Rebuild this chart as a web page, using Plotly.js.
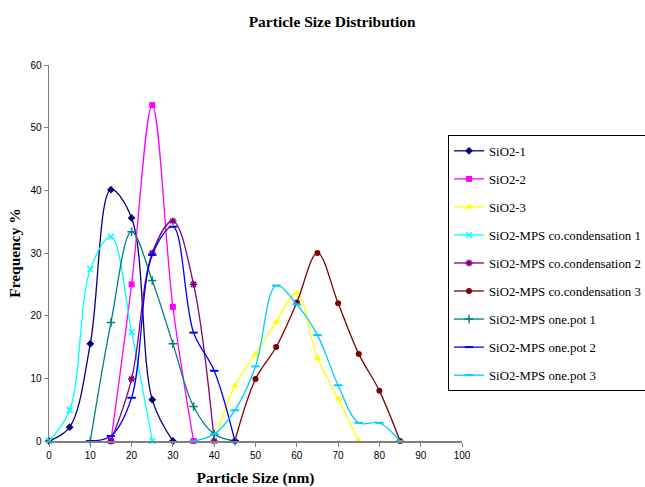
<!DOCTYPE html>
<html>
<head>
<meta charset="utf-8">
<script src="https://cdn.plot.ly/plotly-3.0.1.min.js"></script>
<style>html,body{margin:0;padding:0;background:#fff;}#chart{width:645px;height:487px;}</style>
</head>
<body>
<div id="chart"></div>
<script>
// Data
var sio2_1_x = [0, 5, 10, 15, 20, 25, 30];
var sio2_1_y = [0, 2.2, 15.5, 40.1, 35.6, 6.6, 0];

var sio2_2_x = [15, 20, 25, 30, 35];
var sio2_2_y = [0, 25, 53.6, 21.4, 0];

var sio2_3_x = [40, 45, 50, 55, 60, 65, 70, 75];
var sio2_3_y = [0, 8.8, 13.9, 19.0, 23.6, 13.2, 6.7, 0];

var cc1_x = [0, 5, 10, 15, 20, 25];
var cc1_y = [0, 4.9, 27.4, 32.6, 17.4, 0];

var cc2_x = [15, 20, 25, 30, 35, 40];
var cc2_y = [0, 9.9, 30.0, 35.1, 25.0, 0];

var cc3_x = [45, 50, 55, 60, 65, 70, 75, 80, 85];
var cc3_y = [0, 9.9, 15.0, 22.1, 30.0, 22.0, 13.9, 8.0, 0];

var op1_x = [10, 15, 20, 25, 30, 35, 40, 45];
var op1_y = [0, 18.9, 33.4, 25.6, 15.5, 5.5, 1.1, 0];

var op2_x = [10, 15, 20, 25, 30, 35, 40, 45];
var op2_y = [0, 0.8, 6.9, 29.7, 34.2, 17.3, 11.2, 0];

var op3_x = [35, 40, 45, 50, 55, 60, 65, 70, 75, 80, 85];
var op3_y = [0, 1.1, 4.9, 11.9, 24.8, 21.8, 16.9, 8.9, 2.9, 2.9, 0];

var seriesNames = ["SiO2-1", "SiO2-2", "SiO2-3",
  "SiO2-MPS co.condensation 1", "SiO2-MPS co.condensation 2", "SiO2-MPS co.condensation 3",
  "SiO2-MPS one.pot 1", "SiO2-MPS one.pot 2", "SiO2-MPS one.pot 3"];

var xs = [sio2_1_x, sio2_2_x, sio2_3_x, cc1_x, cc2_x, cc3_x, op1_x, op2_x, op3_x];
var ys = [sio2_1_y, sio2_2_y, sio2_3_y, cc1_y, cc2_y, cc3_y, op1_y, op2_y, op3_y];

var styles = [
  {c: "#000080", s: "diamond", sz: 6, lw: 0},
  {c: "#FF00FF", s: "square", sz: 6, lw: 0},
  {c: "#FFFF00", s: "triangle-up", sz: 7, lw: 0},
  {c: "#00FFFF", s: "x-thin-open", sz: 6, lw: 1.5},
  {c: "#800080", s: "asterisk-open", sz: 6, lw: 1.5},
  {c: "#800000", s: "circle", sz: 6, lw: 0},
  {c: "#008080", s: "cross-thin-open", sz: 6, lw: 1.5},
  {c: "#0000FF", s: "line-ew-open", sz: 6, lw: 2},
  {c: "#00CCFF", s: "line-ew-open", sz: 6, lw: 2}
];

var serif = "Liberation Serif";
var sans = "Liberation Sans";

var traces = [];
for (var i = 0; i < seriesNames.length; i++) {
  var st = styles[i];
  traces.push({
    type: "scatter",
    mode: "lines+markers",
    name: seriesNames[i],
    legendgroup: "g" + i,
    x: xs[i],
    y: ys[i],
    line: {color: st.c, width: 1.3, shape: "spline", smoothing: 1},
    marker: {color: st.c, symbol: st.s, size: st.sz, line: {color: st.c, width: st.lw}},
    cliponaxis: false
  });
}

var layout = {
  width: 645,
  height: 487,
  margin: {l: 49, r: 183, t: 65, b: 46, autoexpand: false},
  paper_bgcolor: "#fff",
  plot_bgcolor: "#fff",
  showlegend: true,
  title: {
    text: "<b>Particle Size Distribution</b>",
    font: {family: serif, size: 15.5, color: "#000"},
    x: 0.515, xref: "container", xanchor: "center",
    y: 0.955, yref: "container", yanchor: "middle"
  },
  xaxis: {
    range: [0, 100],
    dtick: 10,
    tick0: 0,
    showgrid: false,
    zeroline: false,
    showline: true,
    linecolor: "#808080",
    linewidth: 1.5,
    ticks: "outside",
    ticklen: 4,
    tickcolor: "#808080",
    tickfont: {family: sans, size: 10, color: "#000"},
    title: {
      text: "<b>Particle Size (nm)</b>",
      font: {family: serif, size: 15.5, color: "#000"},
      standoff: 12
    }
  },
  yaxis: {
    range: [0, 60],
    dtick: 10,
    tick0: 0,
    showgrid: false,
    zeroline: false,
    showline: true,
    linecolor: "#808080",
    linewidth: 1.5,
    ticks: "outside",
    ticklen: 4,
    tickcolor: "#808080",
    tickfont: {family: sans, size: 10, color: "#000"},
    title: {
      text: "<b>Frequency %</b>",
      font: {family: serif, size: 15.5, color: "#000"},
      standoff: 6
    }
  },
  legend: {
    xref: "container", x: 448 / 645, xanchor: "left",
    yref: "container", y: (487 - 135) / 487, yanchor: "top",
    bordercolor: "#000",
    borderwidth: 1,
    bgcolor: "#fff",
    font: {family: serif, size: 12.8, color: "#000"},
    tracegroupgap: 8.4,
    itemwidth: 30,
    traceorder: "grouped",
    maxheight: 320
  }
};

Plotly.newPlot("chart", traces, layout, {displayModeBar: false, staticPlot: true});
</script>
</body>
</html>
